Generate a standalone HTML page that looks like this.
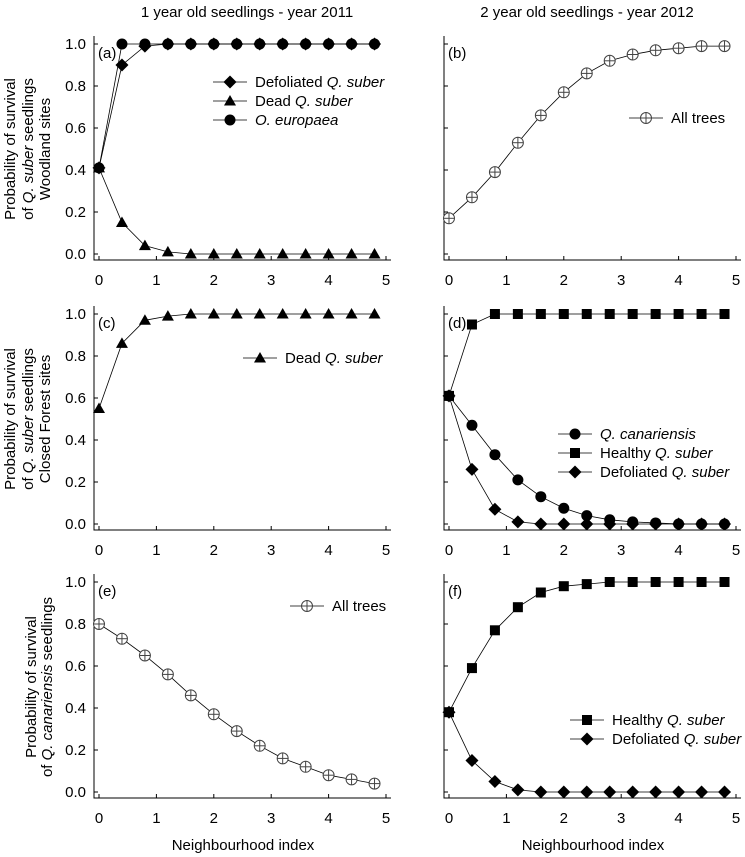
<!DOCTYPE html>
<html><head><meta charset="utf-8"><style>
body{margin:0;background:#fff;}
svg{display:block;font-family:"Liberation Sans",sans-serif;}
</style></head><body>
<svg id="chart" width="745" height="857" xmlns="http://www.w3.org/2000/svg">
<text x="247" y="17" text-anchor="middle" font-size="15">1 year old seedlings - year 2011</text>
<text x="587" y="17" text-anchor="middle" font-size="15">2 year old seedlings - year 2012</text>
<text x="243" y="850" text-anchor="middle" font-size="15">Neighbourhood index</text>
<text x="593" y="850" text-anchor="middle" font-size="15">Neighbourhood index</text>
<g font-size="15" text-anchor="middle">
<text transform="translate(15,149) rotate(-90)">Probability of survival</text>
<text transform="translate(33,149) rotate(-90)">of <tspan font-style="italic">Q. suber</tspan> seedlings</text>
<text transform="translate(50,149) rotate(-90)">Woodland sites</text>
<text transform="translate(15,419) rotate(-90)">Probability of  survival</text>
<text transform="translate(33,419) rotate(-90)">of <tspan font-style="italic">Q. suber</tspan> seedlings</text>
<text transform="translate(50,419) rotate(-90)">Closed Forest sites</text>
<text transform="translate(36,687) rotate(-90)">Probability of survival</text>
<text transform="translate(52,687) rotate(-90)">of <tspan font-style="italic">Q. canariensis</tspan> seedlings</text>
</g>
</svg>
<script>
const xs = [0,0.4,0.8,1.2,1.6,2.0,2.4,2.8,3.2,3.6,4.0,4.4,4.8];
const xTicks = [0,1,2,3,4,5];
const yTicks = [0,0.2,0.4,0.6,0.8,1.0];
const yTickLabels = ["0.0","0.2","0.4","0.6","0.8","1.0"];
const aDefoliated = [0.41,0.90,0.99,1,1,1,1,1,1,1,1,1,1];
const aDead = [0.41,0.15,0.04,0.01,0,0,0,0,0,0,0,0,0];
const aOlea = [0.41,1,1,1,1,1,1,1,1,1,1,1,1];
const bAll = [0.17,0.27,0.39,0.53,0.66,0.77,0.86,0.92,0.95,0.97,0.98,0.99,0.99];
const cDead = [0.55,0.86,0.97,0.99,1,1,1,1,1,1,1,1,1];
const dCanariensis = [0.61,0.47,0.33,0.21,0.13,0.075,0.04,0.02,0.01,0.005,0,0,0];
const dHealthy = [0.61,0.95,1,1,1,1,1,1,1,1,1,1,1];
const dDefoliated = [0.61,0.26,0.07,0.01,0,0,0,0,0,0,0,0,0];
const eAll = [0.80,0.73,0.65,0.56,0.46,0.37,0.29,0.22,0.16,0.12,0.08,0.06,0.04];
const fHealthy = [0.38,0.59,0.77,0.88,0.95,0.98,0.99,1,1,1,1,1,1];
const fDefoliated = [0.38,0.15,0.05,0.01,0,0,0,0,0,0,0,0,0];

const svg = document.getElementById('chart');
const NS = 'http://www.w3.org/2000/svg';
function mk(tag, attrs, parent){const e=document.createElementNS(NS,tag);for(const k in attrs)e.setAttribute(k,attrs[k]);(parent||svg).appendChild(e);return e;}

function marker(type, cx, cy, g){
  let e;
  if(type==='circle'){e=mk('circle',{cx,cy,r:5.5,fill:'#000'},g);}
  else if(type==='diamond'){e=mk('polygon',{points:`${cx},${cy-6.5} ${cx+6.5},${cy} ${cx},${cy+6.5} ${cx-6.5},${cy}`,fill:'#000'},g);}
  else if(type==='triangle'){e=mk('polygon',{points:`${cx},${cy-6} ${cx+6},${cy+4.5} ${cx-6},${cy+4.5}`,fill:'#000'},g);}
  else if(type==='square'){e=mk('rect',{x:cx-5,y:cy-5,width:10,height:10,fill:'#000'},g);}
  else {e=mk('g',{},g);
    mk('circle',{cx,cy,r:5.5,fill:'#fff',stroke:'#444','stroke-width':1},e);
    mk('line',{x1:cx-5.5,y1:cy,x2:cx+5.5,y2:cy,stroke:'#444','stroke-width':1},e);
    mk('line',{x1:cx,y1:cy-5.5,x2:cx,y2:cy+5.5,stroke:'#444','stroke-width':1},e);}
  return e;
}

function panel(p){
  const g = mk('g',{});
  
  
  const X = v => p.x0 + v*57.4;
  const Y = v => p.y0 - v*210;
  const ax = p.x0-5, ay = p.y0+6;
  const axes = mk('path',{d:`M${ax},${Y(1)-8} L${ax},${ay} L${X(5)+5},${ay}`,stroke:'#000',fill:'none','stroke-width':1},g);
  
  
  xTicks.forEach(t=>{
    mk('line',{x1:X(t),y1:ay,x2:X(t),y2:ay-4,stroke:'#000'},g);
    const tl = mk('text',{x:X(t),y:ay+25,'font-size':15,'text-anchor':'middle'},g);
    tl.textContent = t;
    
    
  });
  yTicks.forEach((t,i)=>{
    mk('line',{x1:ax,y1:Y(t),x2:ax+4,y2:Y(t),stroke:'#000'},g);
    if(p.labels){
      const tl = mk('text',{x:ax-8,y:Y(t)+5,'font-size':15,'text-anchor':'end'},g);
      tl.textContent = yTickLabels[i];
      
      
    }
  });
  const lab = mk('text',{x:p.x0-1,y:Y(1)+14,'font-size':15},g);
  lab.textContent = '('+p.id+')';
  
  
  p.series.slice().reverse().forEach(s=>{
    const sg = mk('g',{},g);
    
    
    mk('polyline',{points:s.data.map((v,i)=>X(xs[i])+','+Y(v)).join(' '),fill:'none',stroke:'#000','stroke-width':0.8},sg);
    s.data.forEach((v,i)=>{
      const m = marker(s.m, X(xs[i]), Y(v), sg);
      
      
    });
  });
  p.series.forEach((s,i)=>{
    const ly = p.ly + i*19;
    const lg = mk('g',{},g);
    
    
    mk('line',{x1:p.lx-17,y1:ly,x2:p.lx+17,y2:ly,stroke:'#000','stroke-width':0.8},lg);
    marker(s.m,p.lx,ly,lg);
    const t = mk('text',{x:p.lx+25,y:ly+5,'font-size':15},lg);
    t.innerHTML = s.label;
  });
}
const I = s => '<tspan font-style="italic">'+s+'</tspan>';
panel({id:'a',x0:99,y0:254,labels:true,lx:230,ly:82,series:[
  {name:'defoliated',m:'diamond',data:aDefoliated,label:'Defoliated '+I('Q. suber')},
  {name:'dead',m:'triangle',data:aDead,label:'Dead '+I('Q. suber')},
  {name:'olea',m:'circle',data:aOlea,label:I('O. europaea')}]});
panel({id:'b',x0:449,y0:254,labels:false,lx:646,ly:118,series:[
  {name:'all-trees',m:'cross',data:bAll,label:'All trees'}]});
panel({id:'c',x0:99,y0:524,labels:true,lx:260,ly:358,series:[
  {name:'dead',m:'triangle',data:cDead,label:'Dead '+I('Q. suber')}]});
panel({id:'d',x0:449,y0:524,labels:false,lx:575,ly:434,series:[
  {name:'canariensis',m:'circle',data:dCanariensis,label:I('Q. canariensis')},
  {name:'healthy',m:'square',data:dHealthy,label:'Healthy '+I('Q. suber')},
  {name:'defoliated',m:'diamond',data:dDefoliated,label:'Defoliated '+I('Q. suber')}]});
panel({id:'e',x0:99,y0:792,labels:true,lx:307,ly:606,series:[
  {name:'all-trees',m:'cross',data:eAll,label:'All trees'}]});
panel({id:'f',x0:449,y0:792,labels:false,lx:587,ly:720,series:[
  {name:'healthy',m:'square',data:fHealthy,label:'Healthy '+I('Q. suber')},
  {name:'defoliated',m:'diamond',data:fDefoliated,label:'Defoliated '+I('Q. suber')}]});
</script>
</body></html>
